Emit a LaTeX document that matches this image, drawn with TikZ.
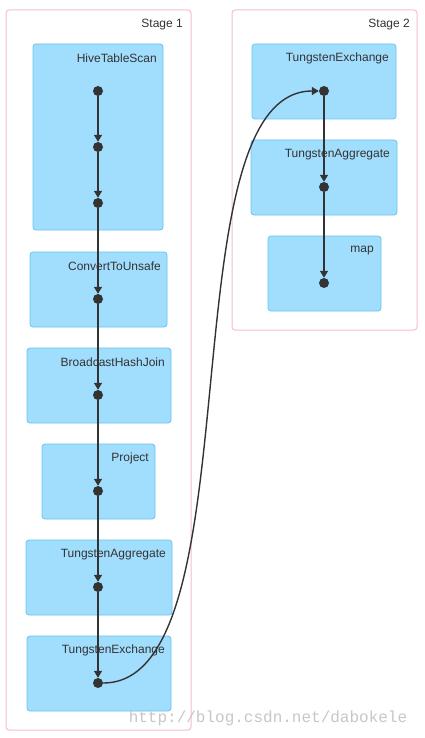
\documentclass[tikz,border=0pt]{standalone}
\usepackage{fontspec}
\setmainfont{Liberation Sans}
\newfontfamily\markfont{Liberation Mono}
\usetikzlibrary{arrows.meta, positioning}
\definecolor{opfill}{RGB}{161,221,253}
\definecolor{opdraw}{RGB}{104,196,240}
\definecolor{stagedraw}{RGB}{244,190,208}
\definecolor{ink}{RGB}{51,51,51}

\begin{document}
\begin{tikzpicture}[x=1pt, y=-1pt,
   stage/.style={draw=stagedraw, line width=1pt, rounded corners=3pt},
   stagelabel/.style={text=ink, anchor=east, inner sep=0pt, font=\fontsize{12}{14}\selectfont},
   op/.style={draw=opdraw, fill=opfill, line width=0.8pt, rounded corners=3pt,
      inner sep=0pt, outer sep=0pt, minimum height=75pt},
   oplabel/.style={text=ink, anchor=east, inner sep=0pt, font=\fontsize{12}{14}\selectfont},
   dot/.style={circle, fill=ink, inner sep=0pt, minimum size=10pt},
   flow/.style={draw=ink, line width=1.4pt, -{Triangle[width=8pt,length=7pt]}}]
\useasboundingbox[fill=white] (0,0) rectangle (425,738);

% stages
\draw[stage] (6,10) rectangle (191,730);
\node[stagelabel] (st1) at (183,25) {Stage 1};
\draw[stage] (232,10) rectangle (417,330);
\node[stagelabel] (st2) at (410,25) {Stage 2};

% stage 1 operators
\node[op, minimum width=130pt, minimum height=186pt] (scan) at (98,137) {};
\node[op, minimum width=137pt] (conv) at (98.5,289.5) {};
\node[op, minimum width=144pt] (join) at (99,385.5) {};
\node[op, minimum width=113pt] (proj) at (98.5,481.5) {};
\node[op, minimum width=146pt] (agg1) at (99,577.5) {};
\node[op, minimum width=144pt] (exch1) at (99,673.5) {};

\node[oplabel] at ([xshift=-6pt,yshift=-14.5pt]scan.north east) {HiveTableScan};
\node[oplabel] at ([xshift=-6pt,yshift=-14.5pt]conv.north east) {ConvertToUnsafe};
\node[oplabel] at ([xshift=-6pt,yshift=-14.5pt]join.north east) {BroadcastHashJoin};
\node[oplabel] at ([xshift=-6pt,yshift=-14.5pt]proj.north east) {Project};
\node[oplabel] at ([xshift=-6pt,yshift=-14.5pt]agg1.north east) {TungstenAggregate};
\node[oplabel] at ([xshift=-6pt,yshift=-14.5pt]exch1.north east) {TungstenExchange};

% stage 2 operators
\node[op, minimum width=144pt] (exch2) at (324,81.5) {};
\node[op, minimum width=146pt] (agg2) at (324,177.5) {};
\node[op, minimum width=113pt] (map) at (324.5,273.5) {};

\node[oplabel] at ([xshift=-7pt,yshift=-14.5pt]exch2.north east) {TungstenExchange};
\node[oplabel] at ([xshift=-7pt,yshift=-14.5pt]agg2.north east) {TungstenAggregate};
\node[oplabel] at ([xshift=-7pt,yshift=-14.5pt]map.north east) {map};

% rdd dots
\foreach \n/\y in {a1/91, a2/147, a3/203, a4/299, a5/395, a6/491, a7/587, a8/683}
   \node[dot] (\n) at (98,\y) {};
\foreach \n/\y in {b1/91, b2/187, b3/283}
   \node[dot] (\n) at (324,\y) {};

% edges
\foreach \s/\t in {a1/a2, a2/a3, a3/a4, a4/a5, a5/a6, a6/a7, a7/a8, b1/b2, b2/b3}
   \draw[flow] (\s) -- (\t);
\draw[flow] (a8) .. controls +(160,0) and +(-160,0) .. (b1);

\node[text=black!22, inner sep=0pt, font=\markfont\fontsize{16}{18}\selectfont] (mark) at (268,718) {http://blog.csdn.net/dabokele};
\end{tikzpicture}
\end{document}
